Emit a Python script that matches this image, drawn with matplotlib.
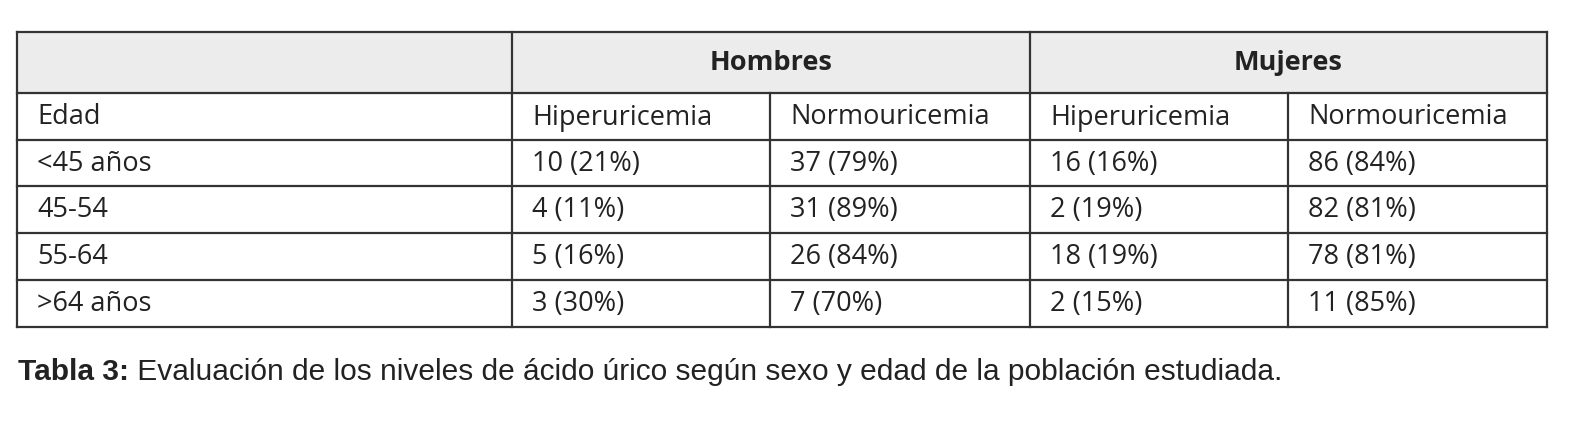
import matplotlib.pyplot as plt

groups = ["Hombres", "Mujeres"]
subheads = ["Hiperuricemia", "Normouricemia", "Hiperuricemia", "Normouricemia"]
ages = ["<45 años", "45-54", "55-64", ">64 años"]
h_hiper = ["10 (21%)", "4 (11%)", "5 (16%)", "3 (30%)"]
h_normo = ["37 (79%)", "31 (89%)", "26 (84%)", "7 (70%)"]
m_hiper = ["16 (16%)", "2 (19%)", "18 (19%)", "2 (15%)"]
m_normo = ["86 (84%)", "82 (81%)", "78 (81%)", "11 (85%)"]
caption_bold = "Tabla 3:"
caption = " Evaluación de los niveles de ácido úrico según sexo y edad de la población estudiada."

W, H = 1574, 427
fig = plt.figure(figsize=(W / 100, H / 100), dpi=100)
ax = fig.add_axes([0, 0, 1, 1])
ax.set_xlim(0, W)
ax.set_ylim(H, 0)
ax.axis("off")

cols = [17, 512, 770, 1030, 1288, 1547]
rows = [33, 94, 141, 187, 234, 281, 328]
lc = "#333333"
lw = 1.6
font = "Open Sans"

ax.fill_between([cols[0], cols[-1]], rows[0], rows[1], color="#ececec", zorder=0)
for y in rows:
    ax.plot([cols[0], cols[-1]], [y, y], color=lc, lw=lw)
for i, x in enumerate(cols):
    y0 = rows[0] if i in (0, 1, 3, 5) else rows[1]
    ax.plot([x, x], [y0, rows[-1]], color=lc, lw=lw)

fs = 19.5
for g, (a, b) in zip(groups, [(1, 3), (3, 5)]):
    ax.text((cols[a] + cols[b]) / 2, (rows[0] + rows[1]) / 2, g, ha="center", va="center",
            fontsize=fs, fontweight="bold", family=font, color="#222222")

table = [["Edad"] + subheads] + [list(r) for r in zip(ages, h_hiper, h_normo, m_hiper, m_normo)]
for r, row in enumerate(table):
    yc = (rows[r + 1] + rows[r + 2]) / 2
    for c, txt in enumerate(row):
        ax.text(cols[c] + 20, yc, txt, ha="left", va="center", fontsize=fs,
                family=font, color="#222222")

t = ax.text(18, 372, caption_bold, ha="left", va="center", fontsize=21.5,
            fontweight="bold", family="Liberation Sans", color="#222222")
fig.canvas.draw()
bb = t.get_window_extent()
ax.text(18 + bb.width, 372, caption, ha="left", va="center", fontsize=21.5,
        family="Liberation Sans", color="#222222")

fig.savefig("out.png", dpi=100)
